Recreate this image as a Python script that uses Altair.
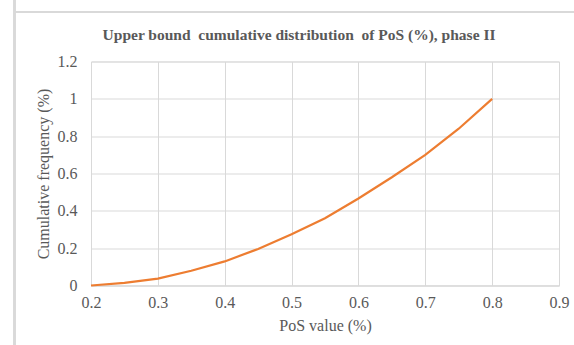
import altair as alt
import pandas as pd

pos_value = [0.20, 0.25, 0.30, 0.35, 0.40, 0.45, 0.50, 0.55, 0.60, 0.65, 0.70, 0.75, 0.80]
cum_freq = [0.0, 0.014, 0.037, 0.079, 0.129, 0.196, 0.275, 0.36, 0.466, 0.58, 0.70, 0.84, 1.0]

x_ticks = [0.2, 0.3, 0.4, 0.5, 0.6, 0.7, 0.8, 0.9]
y_ticks = [0, 0.2, 0.4, 0.6, 0.8, 1.0, 1.2]
title_text = "Upper bound\u00a0 cumulative distribution\u00a0 of PoS (%), phase II"

df = pd.DataFrame({"x": pos_value, "y": cum_freq})
tdf = pd.DataFrame({"t": [title_text]})

FONT = "Liberation Serif"
GRAY = "#595959"
GRID = "#D9D9D9"

line = alt.Chart(df).mark_line(color="#ED7D31", strokeWidth=2.2).encode(
    x=alt.X("x:Q", scale=alt.Scale(domain=[0.2, 0.9], nice=False),
            axis=alt.Axis(values=x_ticks, format=".1f", title="PoS value (%)",
                          labelFont=FONT, labelFontSize=16, labelColor=GRAY, labelFlush=False,
                          titleFont=FONT, titleFontSize=16, titleColor=GRAY, titleFontWeight="normal",
                          labelPadding=9, titlePadding=7, tickSize=0,
                          domainColor=GRID, gridColor=GRID, grid=True)),
    y=alt.Y("y:Q", scale=alt.Scale(domain=[0, 1.2], nice=False),
            axis=alt.Axis(values=y_ticks, labelExpr="datum.value == 0 ? '0' : datum.value == 1 ? '1' : format(datum.value, '.1f')",
                          title="Cumulative frequency (%)",
                          labelFont=FONT, labelFontSize=16, labelColor=GRAY, labelFlush=False,
                          titleFont=FONT, titleFontSize=16, titleColor=GRAY, titleFontWeight="normal",
                          labelPadding=14, titlePadding=6, tickSize=0,
                          domain=False, gridColor=GRID, grid=True)),
)

title = alt.Chart(tdf).mark_text(font=FONT, fontSize=15.5, fontWeight="bold", color=GRAY,
                                 align="center", baseline="alphabetic").encode(
    text="t:N", x=alt.value(208), y=alt.value(-21.5)
)

frame_v = alt.Chart(df).mark_rule(color=GRID, strokeWidth=2, clip=False).encode(
    x=alt.value(-76.5), y=alt.value(-70), y2=alt.value(300)
)
frame_h = alt.Chart(df).mark_rule(color=GRID, strokeWidth=2, clip=False).encode(
    x=alt.value(-77), x2=alt.value(520), y=alt.value(-49.5)
)

chart = alt.layer(frame_v, frame_h, line, title).properties(
    width=468, height=224,
    autosize=alt.AutoSizeParams(type="none"),
    padding={"left": 91, "top": 61.5, "right": 15, "bottom": 59.5},
).configure_view(stroke=None).configure(background="white")

chart.save("out.html", embed_options={"renderer": "svg", "actions": False})
